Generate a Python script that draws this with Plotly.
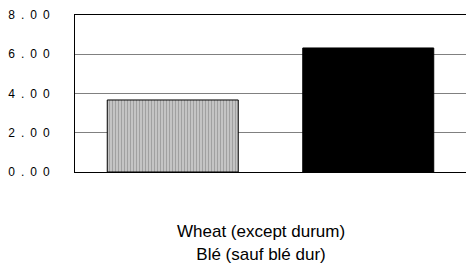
import plotly.graph_objects as go

categories = ["Wheat (except durum)<br>Blé (sauf blé dur)"]
category_labels = ["Wheat (except durum)\u00a0\u00a0\u00a0\u00a0<br>Blé (sauf blé dur)\u00a0\u00a0\u00a0\u00a0"]
series_a = [3.67]
series_b = [6.32]
tick_vals = [0, 2, 4, 6, 8]
tick_text = ["0\u2002.\u20020\u20020", "2\u2002.\u20020\u20020", "4\u2002.\u20020\u20020",
             "6\u2002.\u20020\u20020", "8\u2002.\u20020\u20020"]

fig = go.Figure()
fig.add_trace(go.Bar(
    x=categories, y=series_a, name="A",
    marker=dict(color="#c8c8c8",
                pattern=dict(shape="|", fgcolor="#707070", bgcolor="#d0d0d0",
                             size=3, solidity=0.5, fillmode="overlay"),
                line=dict(color="black", width=1)),
))
fig.add_trace(go.Bar(
    x=categories, y=series_b, name="B",
    marker=dict(color="black", line=dict(color="black", width=1)),
))

fig.update_layout(
    width=466, height=264,
    margin=dict(l=75, r=0, t=15, b=92),
    paper_bgcolor="white", plot_bgcolor="white",
    showlegend=False,
    barmode="group", bargap=0.0, bargroupgap=0.33,
    font=dict(family="Liberation Sans, Arial, sans-serif", color="black"),
)
fig.update_xaxes(
    showline=True, linecolor="black", linewidth=1, mirror=True,
    showgrid=False, ticks="", range=[-0.5, 0.5], automargin=False,
    tickvals=categories, ticktext=category_labels,
    tickfont=dict(size=17),
    ticklabelstandoff=44,
)
fig.update_yaxes(
    range=[0, 8], tickvals=tick_vals, ticktext=tick_text,
    showline=True, linecolor="black", linewidth=1, automargin=False,
    showgrid=True, gridcolor="#808080", gridwidth=1,
    zeroline=False, ticks="",
    tickfont=dict(size=12), ticklabelstandoff=22,
)
fig.write_html("out.html", config={"displayModeBar": False},
               post_script="document.body.style.margin='0';document.body.style.overflow='hidden';")
